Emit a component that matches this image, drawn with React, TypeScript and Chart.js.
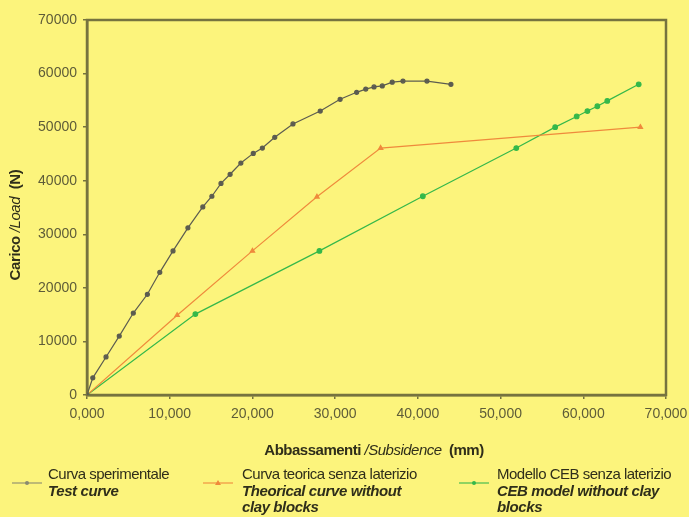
import { useEffect, useRef } from "react";
import { Chart, registerables } from "chart.js";
Chart.register(...registerables);

const testX = [0, 0.7, 2.3, 3.9, 5.6, 7.3, 8.8, 10.4, 12.2, 14.0, 15.1, 16.2, 17.3, 18.6, 20.1, 21.2, 22.7, 24.9, 28.2, 30.6, 32.6, 33.7, 34.7, 35.7, 36.9, 38.2, 41.1, 44.0];
const testY = [0, 3200, 7100, 11000, 15300, 18800, 22900, 26900, 31200, 35100, 37100, 39500, 41200, 43300, 45100, 46100, 48100, 50600, 53000, 55200, 56500, 57100, 57500, 57700, 58400, 58600, 58600, 58000];
const theoX = [0, 10.9, 20.0, 27.8, 35.5, 66.9];
const theoY = [0, 14900, 26900, 37000, 46100, 50000];
const cebX = [0, 13.1, 28.1, 40.6, 51.9, 56.6, 59.2, 60.5, 61.7, 62.9, 66.7];
const cebY = [0, 15100, 26900, 37100, 46100, 50000, 52000, 53000, 53900, 54900, 58000];

const BG = "#fcf47c";
const AXIS = "#76733f";
const TXT = "#5e5c38";
const TITLE = "#2f2e1a";
const C_TEST = "#5c5c50";
const C_THEO = "#ef8a3c";
const C_CEB = "#35b84a";

const pts = (xs: number[], ys: number[]) => xs.map((x, i) => ({ x, y: ys[i] }));

const boxPlugin = {
  id: "box",
  beforeDatasetsDraw(chart: any) {
    const { ctx, chartArea: a } = chart;
    ctx.save();
    ctx.strokeStyle = AXIS;
    ctx.lineWidth = 2.5;
    ctx.strokeRect(a.left, a.top, a.right - a.left, a.bottom - a.top);
    ctx.restore();
  },
};

const font = "'Liberation Sans', Arial, sans-serif";

export default function App() {
  const ref = useRef<HTMLCanvasElement>(null);
  useEffect(() => {
    document.body.style.margin = "0";
    const chart = new Chart(ref.current!, {
      type: "scatter",
      data: {
        datasets: [
          { data: pts(testX, testY), showLine: true, borderColor: C_TEST, backgroundColor: C_TEST, borderWidth: 1.2, pointRadius: 2, pointStyle: "circle" },
          { data: pts(theoX, theoY), showLine: true, borderColor: C_THEO, backgroundColor: C_THEO, borderWidth: 1.2, pointRadius: 2.5, pointStyle: "triangle" },
          { data: pts(cebX, cebY), showLine: true, borderColor: C_CEB, backgroundColor: C_CEB, borderWidth: 1.2, pointRadius: 2.3, pointStyle: "circle" },
        ],
      },
      options: {
        responsive: false,
        animation: false,
        layout: { padding: { top: 20, right: 23, bottom: 92, left: 0 } },
        plugins: { legend: { display: false }, tooltip: { enabled: false } },
        scales: {
          x: {
            type: "linear",
            min: 0,
            max: 70,
            afterFit: (s: any) => { s.height = 30; s.paddingLeft = 0; s.paddingRight = 0; },
            ticks: {
              stepSize: 10,
              padding: 7,
              color: TXT,
              font: { family: font, size: 14 },
              callback: (v: any) => Number(v).toFixed(3).replace(".", ","),
            },
            grid: { display: true, drawOnChartArea: false, drawTicks: true, tickLength: 4, color: AXIS, lineWidth: 1.5 },
            border: { display: true, color: AXIS, width: 2.5 },
          },
          y: {
            type: "linear",
            min: 0,
            max: 70000,
            afterFit: (s: any) => { s.width = 87; s.paddingTop = 0; s.paddingBottom = 0; },
            ticks: {
              stepSize: 10000,
              padding: 6,
              color: TXT,
              font: { family: font, size: 14 },
              callback: (v: any) => String(v),
            },
            grid: { display: true, drawOnChartArea: false, drawTicks: true, tickLength: 4, color: AXIS, lineWidth: 1.5 },
            border: { display: true, color: AXIS, width: 2.5 },
          },
        },
      },
      plugins: [boxPlugin],
    } as any);
    return () => chart.destroy();
  }, []);

  const legendSym = (color: string, tri: boolean) => (
    <div style={{ position: "relative", width: 30, height: 10 }}>
      <div style={{ position: "absolute", left: 0, right: 0, top: 3.5, height: 2.5, background: color, opacity: 0.55 }} />
      {tri ? (
        <div style={{ position: "absolute", left: 12, top: 1.5, width: 0, height: 0, borderLeft: "3px solid transparent", borderRight: "3px solid transparent", borderBottom: `5px solid ${color}` }} />
      ) : (
        <div style={{ position: "absolute", left: 12.5, top: 2.5, width: 4.5, height: 4.5, borderRadius: 3, background: color }} />
      )}
    </div>
  );

  const item = (left: number, textLeft: number, color: string, tri: boolean, l1: string, rest: string[]) => (
    <>
      <div style={{ position: "absolute", left, top: 478 }}>{legendSym(color, tri)}</div>
      <div style={{ position: "absolute", left: textLeft, top: 466, fontFamily: font, fontSize: 15, lineHeight: "16.5px", color: TITLE, whiteSpace: "nowrap" }}>
        <div style={{ letterSpacing: -0.5 }}>{l1}</div>
        {rest.map((r, i) => (
          <div key={i} style={{ fontStyle: "italic", fontWeight: "bold", letterSpacing: -0.4 }}>{r}</div>
        ))}
      </div>
    </>
  );

  return (
    <div style={{ position: "fixed", left: 0, top: 0, width: 689, height: 517, background: BG, overflow: "hidden" }}>
      <canvas ref={ref} width={689} height={517} style={{ position: "absolute", left: 0, top: 0, width: 689, height: 517 }} />
      <div style={{ position: "absolute", left: 14, top: 225, transform: "translate(-50%, -50%) rotate(-90deg)", whiteSpace: "nowrap", fontFamily: font, fontSize: 15, color: TITLE, letterSpacing: -0.4 }}>
        <b>Carico</b> <i>/Load</i>&nbsp;&nbsp;<b>(N)</b>
      </div>
      <div style={{ position: "absolute", left: 374, top: 449, transform: "translate(-50%, -50%)", whiteSpace: "nowrap", fontFamily: font, fontSize: 15, color: TITLE, letterSpacing: -0.5 }}>
        <b>Abbassamenti</b> <i>/Subsidence</i>&nbsp;&nbsp;<b>(mm)</b>
      </div>
      {item(12, 48, "#8a8a70", false, "Curva sperimentale", ["Test curve"])}
      {item(203, 242, C_THEO, true, "Curva teorica senza laterizio", ["Theorical curve without", "clay blocks"])}
      {item(459, 497, C_CEB, false, "Modello CEB senza laterizio", ["CEB model without clay", "blocks"])}
    </div>
  );
}
